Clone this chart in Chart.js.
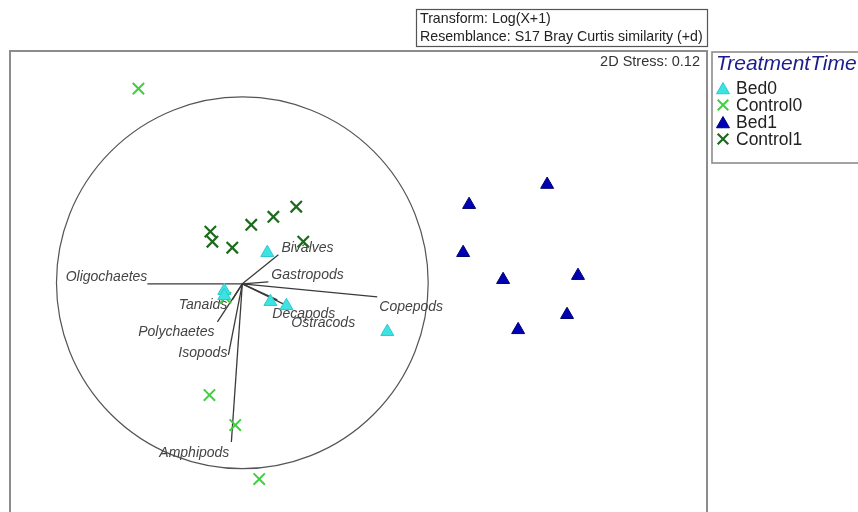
<!DOCTYPE html>
<html>
<head>
<meta charset="utf-8">
<script src="https://cdn.jsdelivr.net/npm/chart.js@4/dist/chart.umd.min.js"></script>
<style>
  html, body { margin: 0; padding: 0; background: #fff; overflow: hidden; }
  #wrap { position: relative; width: 858px; height: 512px; }
  canvas { display: block; }
</style>
</head>
<body>
<div id="wrap"><canvas id="mds" width="858" height="512"></canvas></div>
<script>
// nMDS ordination: sample coordinates (MDS1, MDS2) per treatment/time group
const groupNames = ['Bed0', 'Control0', 'Bed1', 'Control1'];

const bed0X = [0.134, -0.097, -0.097, 0.151, 0.237, 0.780];
const bed0Y = [0.167, -0.037, -0.064, -0.096, -0.118, -0.257];

const control0X = [-0.559, -0.091, -0.177, -0.038, 0.091];
const control0Y = [1.048, -0.075, -0.597, -0.758, -1.048];

const bed1X = [1.640, 1.220, 1.188, 1.403, 1.806, 1.747, 1.484];
const bed1Y = [0.533, 0.425, 0.167, 0.022, 0.044, -0.166, -0.247];

const control1X = [-0.172, -0.161, -0.054, 0.048, 0.167, 0.290, 0.328];
const control1Y = [0.280, 0.226, 0.194, 0.317, 0.360, 0.414, 0.226];

// Taxon correlation vectors (unit circle = correlation of 1)
const taxa = ['Oligochaetes', 'Bivalves', 'Gastropods', 'Copepods', 'Decapods',
              'Ostracods', 'Tanaids', 'Polychaetes', 'Isopods', 'Amphipods'];
const taxaX = [-0.511, 0.194, 0.140, 0.726, 0.188, 0.253, -0.054, -0.134, -0.075, -0.059];
const taxaY = [0.000, 0.156, 0.011, -0.070, -0.086, -0.124, -0.086, -0.204, -0.382, -0.849];

const stressText = '2D Stress: 0.12';
const headerLines = ['Transform: Log(X+1)', 'Resemblance: S17 Bray Curtis similarity (+d)'];
const legendTitle = 'TreatmentTime';

// label placement relative to each vector tip: [dx, dy, align]
const taxaLabelPlacement = {
  Oligochaetes: [0, -7, 'right'],
  Bivalves: [3, -7, 'left'],
  Gastropods: [3, -7, 'left'],
  Copepods: [2, 10, 'left'],
  Decapods: [-5, 14, 'left'],
  Ostracods: [2, 16, 'left'],
  Tanaids: [-5, 5, 'right'],
  Polychaetes: [-3, 10, 'right'],
  Isopods: [-1, -2, 'right'],
  Amphipods: [-2, 11, 'right']
};

function pts(xs, ys) { return xs.map((x, i) => ({ x: x, y: ys[i] })); }

const FONT = '"Liberation Sans", Arial, Helvetica, sans-serif';

const overlay = {
  id: 'mdsOverlay',
  beforeDatasetsDraw(chart) {
    const ctx = chart.ctx;
    const xs = chart.scales.x, ys = chart.scales.y;
    const ox = xs.getPixelForValue(0), oy = ys.getPixelForValue(0);
    const r = xs.getPixelForValue(1) - ox;
    ctx.save();
    // correlation circle
    ctx.strokeStyle = '#555';
    ctx.lineWidth = 1.2;
    ctx.beginPath();
    ctx.arc(ox, oy - 1, r, 0, Math.PI * 2);
    ctx.stroke();
    // vectors
    ctx.strokeStyle = '#3a3a3a';
    ctx.lineWidth = 1.3;
    taxa.forEach((name, i) => {
      const tx = xs.getPixelForValue(taxaX[i]), ty = ys.getPixelForValue(taxaY[i]);
      ctx.beginPath();
      ctx.moveTo(ox, oy);
      ctx.lineTo(tx, ty);
      ctx.stroke();
    });
    // vector labels
    ctx.fillStyle = '#444';
    ctx.font = 'italic 14px ' + FONT;
    ctx.textBaseline = 'middle';
    taxa.forEach((name, i) => {
      const tx = xs.getPixelForValue(taxaX[i]), ty = ys.getPixelForValue(taxaY[i]);
      const p = taxaLabelPlacement[name];
      ctx.textAlign = p[2];
      ctx.fillText(name, tx + p[0], ty + p[1]);
    });
    ctx.restore();
  },
  afterDraw(chart) {
    const ctx = chart.ctx;
    const area = chart.chartArea;
    ctx.save();
    // plot frame
    ctx.strokeStyle = '#8c8c8c';
    ctx.lineWidth = 2;
    ctx.strokeRect(area.left, area.top, area.right - area.left, 480);
    // stress
    ctx.fillStyle = '#333';
    ctx.font = '14.5px ' + FONT;
    ctx.textAlign = 'right';
    ctx.textBaseline = 'middle';
    ctx.fillText(stressText, area.right - 7, 62);
    // header box
    ctx.fillStyle = '#fff';
    ctx.fillRect(416, 9, 292, 38);
    ctx.strokeStyle = '#555';
    ctx.lineWidth = 1.2;
    ctx.strokeRect(416.5, 9.5, 291, 37);
    ctx.fillStyle = '#222';
    ctx.font = '14.2px ' + FONT;
    ctx.textAlign = 'left';
    ctx.fillText(headerLines[0], 420, 19);
    ctx.fillText(headerLines[1], 420, 37);
    // legend box
    ctx.strokeStyle = '#8c8c8c';
    ctx.lineWidth = 1.6;
    ctx.strokeRect(712, 52, 170, 111);
    ctx.fillStyle = '#1c1c8e';
    ctx.font = 'italic 21px ' + FONT;
    ctx.fillText(legendTitle, 716, 64);
    ctx.font = '17.5px ' + FONT;
    chart.data.datasets.forEach((ds, i) => {
      const y = 88 + i * 17;
      ctx.save();
      ctx.fillStyle = ds.backgroundColor;
      ctx.strokeStyle = ds.borderColor;
      ctx.lineWidth = ds.borderWidth;
      const tri = ds.pointStyle === 'triangle';
      Chart.helpers.drawPoint(ctx, {
        pointStyle: ds.pointStyle,
        radius: 7.5,
        rotation: 0,
        borderWidth: ds.borderWidth
      }, 723, tri ? y + 2 : y);
      ctx.restore();
      ctx.fillStyle = '#222';
      ctx.fillText(ds.label, 736, y + 1);
    });
    ctx.restore();
  }
};

new Chart(document.getElementById('mds'), {
  type: 'scatter',
  data: {
    datasets: [
      { label: groupNames[0], data: pts(bed0X, bed0Y), pointStyle: 'triangle',
        pointRadius: 7.5, backgroundColor: '#3de3e3', borderColor: '#2cc8d0', borderWidth: 1 },
      { label: groupNames[1], data: pts(control0X, control0Y), pointStyle: 'crossRot',
        pointRadius: 8, backgroundColor: '#3fcf3f', borderColor: '#3fcf3f', borderWidth: 2 },
      { label: groupNames[2], data: pts(bed1X, bed1Y), pointStyle: 'triangle',
        pointRadius: 7.5, backgroundColor: '#0000b4', borderColor: '#00006e', borderWidth: 1 },
      { label: groupNames[3], data: pts(control1X, control1Y), pointStyle: 'crossRot',
        pointRadius: 8, backgroundColor: '#1c6b1c', borderColor: '#1c6b1c', borderWidth: 2.2 }
    ]
  },
  options: {
    responsive: false,
    animation: false,
    devicePixelRatio: 1,
    layout: { autoPadding: false, padding: { left: 10, top: 51, right: 151, bottom: 0 } },
    scales: {
      x: { type: 'linear', min: -1.25, max: 2.5, display: false },
      y: { type: 'linear', min: -1.225, max: 1.25, display: false }
    },
    plugins: {
      legend: { display: false },
      tooltip: { enabled: false }
    },
    elements: { point: { hoverRadius: 7.5 } }
  },
  plugins: [overlay]
});
</script>
</body>
</html>
